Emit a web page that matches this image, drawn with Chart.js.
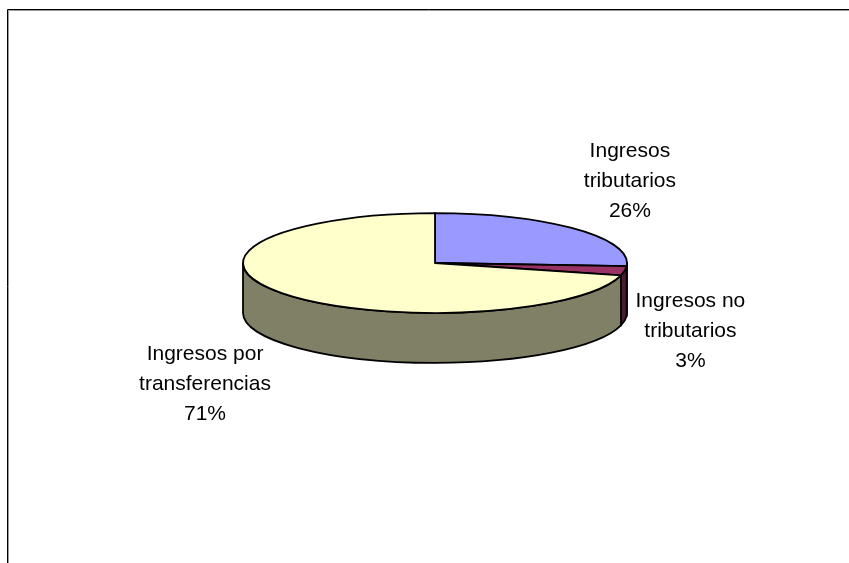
<!DOCTYPE html>
<html>
<head>
<meta charset="utf-8">
<script src="https://cdn.jsdelivr.net/npm/chart.js@4"></script>
<style>
  body { margin: 0; background: #fff; }
  #wrap { position: relative; width: 849px; height: 563px; }
</style>
</head>
<body>
<div id="wrap"><canvas id="pie" width="849" height="563"></canvas></div>
<script>
const labels = [['Ingresos', 'tributarios'], ['Ingresos no', 'tributarios'], ['Ingresos por', 'transferencias']];
const values = [26, 3, 71];
const topColors = ['#9999FF', '#993366', '#FFFFCC'];
const sideColors = ['#4D4D80', '#4D1A33', '#808066'];

const TILT = 0.26;   // vertical squash of the pie top
const DEPTH = 50;    // height of the cylinder wall
const LABEL_GAP = 8;
const LINE_H = 30;
const FONT = '21px "Liberation Sans", Arial, sans-serif';

function frame(ctx) {
    ctx.save();
    ctx.lineWidth = 1;
    ctx.strokeStyle = '#000';
    ctx.beginPath();
    ctx.moveTo(7.5, 600); ctx.lineTo(7.5, 9.5); ctx.lineTo(900, 9.5);
    ctx.stroke();
    ctx.strokeStyle = '#999';
    ctx.beginPath();
    ctx.moveTo(8.5, 600); ctx.lineTo(8.5, 10.5); ctx.lineTo(900, 10.5);
    ctx.stroke();
    ctx.restore();
}

// draws the pie as a tilted cylinder, using the arc angles chart.js computed
const pie3d = {
    id: 'pie3d',
    beforeDraw(chart) {
        frame(chart.ctx);
    },
    beforeDatasetsDraw(chart) {
        const ctx = chart.ctx;
        const arcs = chart.getDatasetMeta(0).data;
        ctx.save();
        ctx.lineWidth = 1.8;
        ctx.lineJoin = 'round';
        ctx.strokeStyle = '#000';

        // front wall
        arcs.forEach((arc, i) => {
            const { x, y, startAngle, endAngle, outerRadius } = arc;
            const rx = outerRadius, ry = outerRadius * TILT;
            const a = Math.max(startAngle, 0), b = Math.min(endAngle, Math.PI);
            if (a >= b) return;
            ctx.beginPath();
            ctx.moveTo(x + rx * Math.cos(a), y + ry * Math.sin(a));
            ctx.ellipse(x, y, rx, ry, 0, a, b);
            ctx.lineTo(x + rx * Math.cos(b), y + ry * Math.sin(b) + DEPTH);
            ctx.ellipse(x, y + DEPTH, rx, ry, 0, b, a, true);
            ctx.closePath();
            ctx.fillStyle = sideColors[i];
            ctx.fill();
            ctx.stroke();
        });

        // top faces
        arcs.forEach((arc, i) => {
            const { x, y, startAngle, endAngle, outerRadius } = arc;
            const rx = outerRadius, ry = outerRadius * TILT;
            ctx.beginPath();
            ctx.moveTo(x, y);
            ctx.ellipse(x, y, rx, ry, 0, startAngle, endAngle);
            ctx.closePath();
            ctx.fillStyle = topColors[i];
            ctx.fill();
            ctx.stroke();
        });

        // category + percent labels outside each slice
        const total = values.reduce((s, v) => s + v, 0);
        ctx.font = FONT;
        ctx.fillStyle = '#000';
        ctx.textAlign = 'center';
        ctx.textBaseline = 'middle';
        arcs.forEach((arc, i) => {
            const { x, y, startAngle, endAngle, outerRadius } = arc;
            const rx = outerRadius, ry = outerRadius * TILT;
            const m = (startAngle + endAngle) / 2;
            const c = Math.cos(m), s = Math.sin(m);
            const lines = labels[i].concat([Math.round(values[i] / total * 100) + '%']);
            const w = Math.max(...lines.map(t => ctx.measureText(t).width));
            const h = lines.length * LINE_H;
            const px = x + (rx + LABEL_GAP) * c + (c >= 0 ? 3 : -6);
            const py = y + (ry + LABEL_GAP) * s + (s > 0 ? DEPTH : 0);
            const left = c >= 0 ? px : px - w;
            const top = s < 0 ? py - h + 3 : py - h / 2 * Math.max(0, 1 - 1.3 * s);
            lines.forEach((t, k) => {
                ctx.fillText(t, left + w / 2, top + LINE_H / 2 + k * LINE_H);
            });
        });

        ctx.restore();
        return false;
    }
};

new Chart(document.getElementById('pie'), {
    type: 'pie',
    data: {
        labels: labels,
        datasets: [{
            data: values,
            backgroundColor: topColors,
            borderWidth: 0,
            hoverOffset: 0
        }]
    },
    options: {
        responsive: false,
        animation: false,
        layout: { padding: { top: 71, bottom: 108, left: 21, right: 0 } },
        plugins: {
            legend: { display: false },
            tooltip: { enabled: false }
        }
    },
    plugins: [pie3d]
});
</script>
</body>
</html>
